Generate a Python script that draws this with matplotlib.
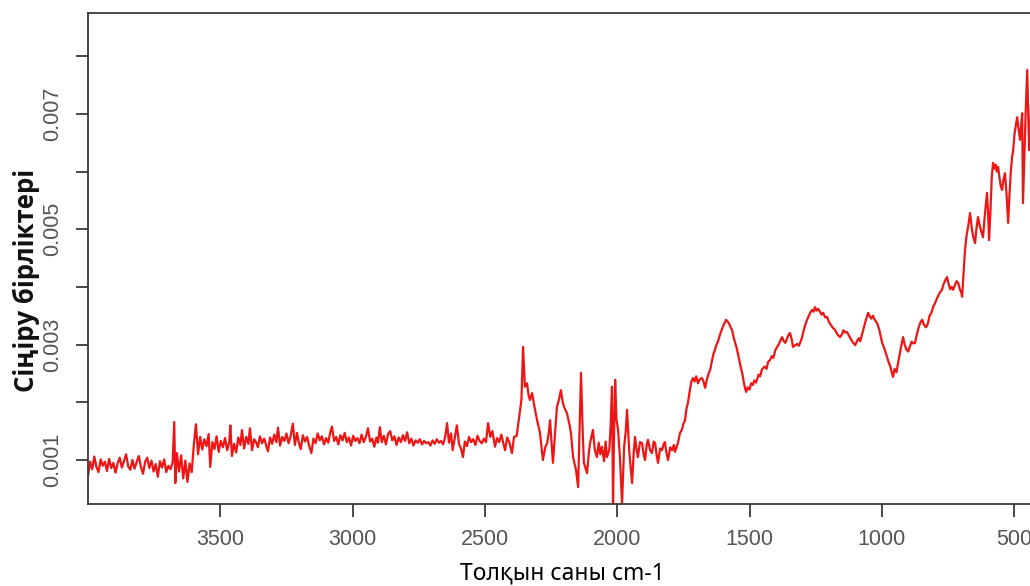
import matplotlib
matplotlib.use("Agg")
import numpy as np
import matplotlib.pyplot as plt

# --- spectrum, region by region (cm-1, absorbance units) ---
wn_high = [4000, 3992, 3984, 3976, 3968, 3960, 3952, 3944, 3936, 3928, 3920, 3912, 3904,
           3896, 3888, 3880, 3872, 3864, 3856, 3848, 3840, 3832, 3824, 3816, 3808, 3800,
           3792, 3784, 3776, 3768, 3760, 3752, 3744, 3736, 3728, 3720, 3712, 3704, 3696,
           3688, 3680, 3674, 3670, 3664, 3656, 3648, 3640, 3632, 3624, 3616, 3608]
ab_high = [0.00072, 0.00097, 0.00084, 0.00106, 0.00088, 0.00079, 0.00101, 0.00090, 0.00097,
           0.00081, 0.00102, 0.00086, 0.00095, 0.00078, 0.00094, 0.00104, 0.00087, 0.00098,
           0.00110, 0.00089, 0.00083, 0.00100, 0.00085, 0.00096, 0.00107, 0.00088, 0.00076,
           0.00097, 0.00104, 0.00086, 0.00099, 0.00080, 0.00093, 0.00071, 0.00098, 0.00087,
           0.00101, 0.00079, 0.00090, 0.00084, 0.00096, 0.00166, 0.00060, 0.00112, 0.00080,
           0.00108, 0.00068, 0.00099, 0.00062, 0.00094, 0.00079]

wn_plateau = [3600, 3592, 3584, 3576, 3568, 3560, 3552, 3544, 3538, 3530, 3522, 3514, 3506,
              3498, 3490, 3482, 3474, 3466, 3462, 3456, 3448, 3440, 3432, 3424, 3418, 3410,
              3402, 3394, 3388, 3380, 3372, 3364, 3358, 3350, 3342, 3334, 3326, 3320, 3312,
              3304, 3296, 3288, 3282, 3274, 3266, 3258, 3250, 3242, 3234, 3226, 3218, 3210,
              3204, 3196, 3188, 3180, 3172, 3164, 3156, 3148, 3140, 3132, 3124, 3116, 3108,
              3100, 3092, 3084, 3078, 3070, 3062, 3054, 3046, 3038, 3030, 3022, 3014, 3006,
              2998, 2990, 2982, 2974, 2966, 2958, 2950, 2942, 2934, 2926, 2918, 2910, 2904,
              2897, 2890, 2882, 2874, 2866, 2858, 2850, 2842, 2834, 2826, 2818, 2810, 2802,
              2794, 2786, 2778, 2770, 2762, 2754, 2746, 2738, 2730, 2722, 2714, 2706, 2698,
              2690, 2682, 2674, 2666, 2658, 2650, 2643, 2636, 2628, 2622, 2614, 2606, 2598,
              2590, 2583, 2576, 2568, 2560, 2552, 2544, 2536, 2528, 2520, 2512, 2504, 2496,
              2488, 2480, 2472, 2462, 2454, 2446, 2438, 2430, 2424, 2416, 2408, 2398, 2390]
ab_plateau = [0.00126, 0.00162, 0.00110, 0.00140, 0.00118, 0.00136, 0.00124, 0.00145, 0.00088,
              0.00131, 0.00119, 0.00141, 0.00114, 0.00133, 0.00122, 0.00138, 0.00117, 0.00131,
              0.00160, 0.00107, 0.00128, 0.00113, 0.00139, 0.00126, 0.00152, 0.00120, 0.00140,
              0.00128, 0.00155, 0.00117, 0.00136, 0.00130, 0.00122, 0.00141, 0.00129, 0.00137,
              0.00124, 0.00115, 0.00139, 0.00128, 0.00144, 0.00131, 0.00156, 0.00125, 0.00140,
              0.00133, 0.00146, 0.00129, 0.00142, 0.00163, 0.00126, 0.00147, 0.00131, 0.00119,
              0.00143, 0.00132, 0.00140, 0.00124, 0.00112, 0.00137, 0.00129, 0.00146, 0.00134,
              0.00141, 0.00127, 0.00138, 0.00130, 0.00149, 0.00158, 0.00133, 0.00140, 0.00127,
              0.00143, 0.00134, 0.00147, 0.00131, 0.00139, 0.00125, 0.00142, 0.00133, 0.00138,
              0.00129, 0.00144, 0.00131, 0.00140, 0.00155, 0.00132, 0.00137, 0.00123, 0.00139,
              0.00130, 0.00157, 0.00131, 0.00142, 0.00127, 0.00145, 0.00150, 0.00134, 0.00141,
              0.00126, 0.00139, 0.00131, 0.00143, 0.00133, 0.00148, 0.00129, 0.00137, 0.00125,
              0.00134, 0.00130, 0.00136, 0.00127, 0.00133, 0.00129, 0.00131, 0.00125, 0.00134,
              0.00128, 0.00136, 0.00130, 0.00133, 0.00127, 0.00141, 0.00164, 0.00130, 0.00146,
              0.00117, 0.00139, 0.00160, 0.00128, 0.00119, 0.00105, 0.00132, 0.00124, 0.00140,
              0.00131, 0.00136, 0.00126, 0.00142, 0.00133, 0.00129, 0.00137, 0.00131, 0.00164,
              0.00140, 0.00150, 0.00123, 0.00138, 0.00131, 0.00144, 0.00128, 0.00117, 0.00139,
              0.00131, 0.00112, 0.00140]

wn_spiky = [2380, 2367, 2362, 2356, 2349, 2341, 2335, 2330, 2322, 2312, 2303, 2292, 2281,
            2272, 2265, 2258, 2254, 2243, 2236, 2228, 2220, 2213, 2206, 2201, 2190, 2180,
            2175, 2167, 2156, 2148, 2137, 2130, 2126, 2114, 2108, 2103, 2092, 2085, 2077,
            2070, 2064, 2058, 2050, 2044, 2039, 2030, 2025, 2020, 2016, 2012, 2008, 2003,
            1997, 1990, 1982, 1974, 1968, 1963, 1955, 1950, 1944, 1938, 1933, 1927, 1922,
            1914, 1906, 1900, 1895, 1889, 1884, 1876, 1869, 1862, 1857, 1851, 1846, 1838,
            1831, 1825, 1820, 1814, 1808, 1800, 1793, 1786, 1782, 1776]
ab_spiky = [0.00142, 0.00187, 0.00205, 0.00296, 0.00227, 0.00233, 0.00212, 0.00204, 0.00216,
            0.00190, 0.00169, 0.00147, 0.00100, 0.00122, 0.00129, 0.00150, 0.00169, 0.00095,
            0.00140, 0.00192, 0.00205, 0.00221, 0.00200, 0.00192, 0.00181, 0.00160, 0.00147,
            0.00105, 0.00083, 0.00053, 0.00251, 0.00140, 0.00095, 0.00077, 0.00110, 0.00129,
            0.00152, 0.00118, 0.00105, 0.00130, 0.00110, 0.00123, 0.00098, 0.00132, 0.00105,
            0.00118, 0.00160, 0.00227, 0.00025, 0.00150, 0.00239, 0.00170, 0.00152, 0.00105,
            0.00025, 0.00123, 0.00150, 0.00187, 0.00117, 0.00090, 0.00060, 0.00112, 0.00140,
            0.00118, 0.00105, 0.00131, 0.00129, 0.00108, 0.00100, 0.00126, 0.00135, 0.00117,
            0.00112, 0.00132, 0.00129, 0.00108, 0.00095, 0.00120, 0.00117, 0.00127, 0.00131,
            0.00112, 0.00100, 0.00122, 0.00117, 0.00126, 0.00114, 0.00122]

wn_bands = [1770, 1763, 1756, 1750, 1744, 1738, 1733, 1726, 1720, 1714, 1708, 1702, 1695,
            1688, 1680, 1674, 1668, 1662, 1655, 1649, 1643, 1637, 1631, 1625, 1619, 1612,
            1606, 1600, 1594, 1589, 1583, 1577, 1572, 1566, 1560, 1554, 1547, 1540, 1534,
            1528, 1522, 1517, 1513, 1507, 1500, 1494, 1488, 1482, 1476, 1472, 1466, 1460,
            1454, 1449, 1443, 1436, 1430, 1423, 1416, 1410, 1403, 1396, 1390, 1383, 1377,
            1371, 1365, 1358, 1352, 1347, 1341, 1336, 1328, 1320, 1314, 1309, 1302, 1296,
            1289, 1283, 1277, 1270, 1264, 1258, 1253, 1247, 1241, 1234, 1228, 1222, 1214,
            1207, 1200, 1193, 1185, 1178, 1171, 1165, 1158, 1151, 1145, 1139, 1132, 1125,
            1118, 1110, 1101]
ab_bands = [0.00131, 0.00147, 0.00152, 0.00163, 0.00169, 0.00190, 0.00199, 0.00220, 0.00236,
            0.00242, 0.00236, 0.00245, 0.00233, 0.00240, 0.00242, 0.00236, 0.00225, 0.00238,
            0.00250, 0.00256, 0.00270, 0.00283, 0.00291, 0.00300, 0.00306, 0.00317, 0.00325,
            0.00332, 0.00338, 0.00343, 0.00340, 0.00336, 0.00330, 0.00325, 0.00312, 0.00302,
            0.00291, 0.00275, 0.00262, 0.00251, 0.00235, 0.00224, 0.00218, 0.00226, 0.00222,
            0.00233, 0.00230, 0.00238, 0.00234, 0.00239, 0.00248, 0.00245, 0.00256, 0.00259,
            0.00262, 0.00258, 0.00270, 0.00273, 0.00280, 0.00277, 0.00290, 0.00296, 0.00300,
            0.00308, 0.00313, 0.00306, 0.00303, 0.00311, 0.00318, 0.00320, 0.00309, 0.00296,
            0.00299, 0.00301, 0.00298, 0.00303, 0.00312, 0.00324, 0.00335, 0.00343, 0.00349,
            0.00356, 0.00360, 0.00357, 0.00365, 0.00359, 0.00362, 0.00357, 0.00352, 0.00355,
            0.00347, 0.00348, 0.00339, 0.00334, 0.00329, 0.00326, 0.00320, 0.00316, 0.00313,
            0.00318, 0.00325, 0.00321, 0.00322, 0.00316, 0.00310, 0.00304, 0.00299]

wn_low = [1095, 1088, 1082, 1075, 1068, 1061, 1052, 1046, 1040, 1034, 1027, 1018, 1010,
          1005, 999, 993, 987, 981, 975, 968, 962, 958, 952, 945, 939, 932, 926, 920, 914,
          907, 901, 895, 888, 881, 875, 868, 861, 855, 848, 841, 833, 826, 820, 813, 806,
          799, 792, 786, 780, 773, 767, 760, 754, 748, 742, 736, 731, 725, 718, 712, 705,
          700, 697, 692, 686, 680, 674, 667, 660, 654, 648, 643, 637, 630, 624, 618, 612,
          607, 603, 599, 595, 590, 585, 580, 575, 570, 566, 561, 556, 551, 546, 541, 535,
          529, 523, 518, 513, 508, 504, 499, 494, 489, 484, 478, 474, 470, 467, 462, 457,
          451, 447, 444, 438, 432, 426, 420, 414, 408]
ab_low = [0.00305, 0.00311, 0.00306, 0.00318, 0.00330, 0.00342, 0.00355, 0.00349, 0.00345,
          0.00350, 0.00343, 0.00337, 0.00326, 0.00315, 0.00303, 0.00296, 0.00288, 0.00279,
          0.00270, 0.00262, 0.00250, 0.00244, 0.00258, 0.00252, 0.00268, 0.00285, 0.00300,
          0.00313, 0.00300, 0.00291, 0.00288, 0.00296, 0.00305, 0.00302, 0.00303, 0.00318,
          0.00330, 0.00338, 0.00343, 0.00334, 0.00330, 0.00337, 0.00350, 0.00355, 0.00366,
          0.00372, 0.00380, 0.00386, 0.00391, 0.00395, 0.00405, 0.00412, 0.00417, 0.00405,
          0.00396, 0.00400, 0.00395, 0.00402, 0.00410, 0.00407, 0.00395, 0.00390, 0.00383,
          0.00420, 0.00464, 0.00490, 0.00505, 0.00528, 0.00500, 0.00485, 0.00476, 0.00500,
          0.00521, 0.00505, 0.00495, 0.00486, 0.00520, 0.00545, 0.00563, 0.00530, 0.00481,
          0.00530, 0.00590, 0.00615, 0.00605, 0.00612, 0.00600, 0.00608, 0.00590, 0.00575,
          0.00568, 0.00585, 0.00597, 0.00560, 0.00511, 0.00560, 0.00600, 0.00625, 0.00637,
          0.00665, 0.00680, 0.00694, 0.00675, 0.00655, 0.00680, 0.00701, 0.00545, 0.00620,
          0.00700, 0.00776, 0.00700, 0.00637, 0.00690, 0.00800, 0.00843, 0.00780, 0.00730,
          0.00690]

x_ticks = [3500, 3000, 2500, 2000, 1500, 1000, 500]
y_ticks = [0.001, 0.002, 0.003, 0.004, 0.005, 0.006, 0.007, 0.008]
y_tick_labels = ["0.001", "", "0.003", "", "0.005", "", "0.007", ""]

wavenumber = np.concatenate([wn_high, wn_plateau, wn_spiky, wn_bands, wn_low])
absorbance = np.concatenate([ab_high, ab_plateau, ab_spiky, ab_bands, ab_low])

fig = plt.figure(figsize=(10.30, 5.86), dpi=100)
# the reference is cropped on the right: the axes run past the figure edge
ax = fig.add_axes([0.0854, 0.1399, 0.925, 0.8379])

ax.plot(wavenumber, absorbance, color='#ee1515', linewidth=1.6)

ax.set_xlim(4000, 400)
ax.set_ylim(0.000237, 0.008747)

ax.set_xticks(x_ticks)
ax.set_xticklabels([str(t) for t in x_ticks])
ax.set_yticks(y_ticks)
ax.set_yticklabels(y_tick_labels, rotation=90, va='center')

for s in ax.spines.values():
    s.set_color('#3a3a3a')
    s.set_linewidth(1.3)

ax.tick_params(axis='both', direction='out', length=9, width=1.3, color='#3a3a3a',
               labelcolor='#555555', labelsize=15.5, pad=9)
for lab in ax.get_xticklabels() + ax.get_yticklabels():
    lab.set_family('Liberation Sans')

fig.text(26 / 1030, 1 - 280 / 586, "Сіңіру бірліктері", rotation=90, ha='center', va='center',
         fontsize=18.5, fontweight='bold', family=['Open Sans', 'DejaVu Sans'], color='#111111')
fig.text(562 / 1030, 1 - 573 / 586, "Толқын саны cm-1", ha='center', va='center',
         fontsize=16.5, family='Noto Sans', color='black')

fig.savefig('out.png', dpi=100)
